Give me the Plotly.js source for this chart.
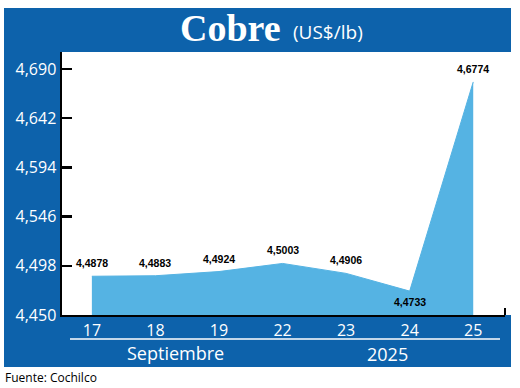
<!DOCTYPE html>
<html>
<head>
<meta charset="utf-8">
<script src="https://cdn.plot.ly/plotly-3.0.1.min.js"></script>
<style>html,body{margin:0;padding:0;background:#fff;}#chart{width:520px;height:388px;}</style>
</head>
<body>
<div id="chart"></div>
<script>
// Data
var days = ['17', '18', '19', '22', '23', '24', '25'];
var prices = [4.4878, 4.4883, 4.4924, 4.5003, 4.4906, 4.4733, 4.6774];
var yTicks = [4.450, 4.498, 4.546, 4.594, 4.642, 4.690];
var monthLabel = 'Septiembre';
var yearLabel = '2025';
var titleMain = 'Cobre';
var titleUnit = '(US$/lb)';
var sourceText = 'Fuente: Cochilco';

var BLUE = '#0d62ab';
var FILL = '#55b3e3';

// pixel -> paper helpers (plot area: x 62..505, y 52..315)
var L = 62, R = 505, T = 52, B = 315;
function px(x) { return (x - L) / (R - L); }
function py(y) { return (B - y) / (B - T); }

var trace = {
  x: days,
  y: prices,
  type: 'scatter',
  mode: 'lines',
  fill: 'tozeroy',
  fillcolor: FILL,
  line: {color: FILL, width: 1},
  hoverinfo: 'skip'
};

// value labels: above each point, except the dip (below)
var minPrice = Math.min.apply(null, prices);
var labelFont = {family: 'Liberation Sans Narrow, Arial Narrow, sans-serif', size: 10.5, color: '#000000', weight: 'bold'};
var valueLabels = days.map(function (d, i) {
  return {
    x: i, y: prices[i], xref: 'x', yref: 'y',
    text: prices[i].toFixed(4).replace('.', ','),
    showarrow: false,
    xanchor: 'center',
    yanchor: 'middle',
    yshift: prices[i] === minPrice ? -11 : 13,
    font: labelFont
  };
});

var layout = {
  width: 520,
  height: 388,
  margin: {l: L, r: 520 - R, t: T, b: 388 - B, pad: 0},
  paper_bgcolor: '#ffffff',
  plot_bgcolor: '#ffffff',
  showlegend: false,
  separators: ',.',
  xaxis: {
    type: 'category',
    range: [-0.47, 6.5],
    showgrid: false,
    zeroline: false,
    showline: true,
    linecolor: '#000',
    linewidth: 2,
    ticks: '',
    tickfont: {family: 'Open Sans, sans-serif', size: 16, color: '#ffffff'},
    fixedrange: true
  },
  yaxis: {
    range: [4.450, 4.7066],
    tickvals: yTicks,
    tickformat: '.3f',
    showgrid: false,
    zeroline: false,
    showline: true,
    linecolor: '#000',
    linewidth: 2.5,
    ticks: 'inside',
    ticklen: 10,
    tickwidth: 2.5,
    tickcolor: '#000',
    tickfont: {family: 'Open Sans, sans-serif', size: 16, color: '#ffffff'},
    fixedrange: true
  },
  shapes: [
    {type: 'rect', xref: 'paper', yref: 'paper', x0: px(4), x1: px(511), y0: py(52), y1: py(8), fillcolor: BLUE, line: {width: 0}, layer: 'below'},
    {type: 'rect', xref: 'paper', yref: 'paper', x0: px(4), x1: px(62), y0: py(367), y1: py(8), fillcolor: BLUE, line: {width: 0}, layer: 'below'},
    {type: 'rect', xref: 'paper', yref: 'paper', x0: px(4), x1: px(511), y0: py(367), y1: py(315), fillcolor: BLUE, line: {width: 0}, layer: 'below'},
    {type: 'line', xref: 'paper', yref: 'paper', x0: px(70), x1: px(500), y0: py(339), y1: py(339), line: {color: '#ffffff', width: 1.5}},
    {type: 'line', xref: 'paper', yref: 'paper', x0: 1, x1: 1, y0: 0, y1: py(308), line: {color: '#000', width: 2}}
  ],
  annotations: valueLabels.concat([
    {xref: 'paper', yref: 'paper', x: px(283), y: py(28), xanchor: 'right', yanchor: 'middle', showarrow: false,
     text: '<b>' + titleMain + '</b>', font: {family: 'Liberation Serif, DejaVu Serif, serif', size: 38, color: '#ffffff'}},
    {xref: 'paper', yref: 'paper', x: px(291), y: py(32), xanchor: 'left', yanchor: 'middle', showarrow: false,
     text: titleUnit, font: {family: 'Open Sans, sans-serif', size: 19, color: '#ffffff'}},
    {xref: 'paper', yref: 'paper', x: px(175), y: py(353), xanchor: 'center', yanchor: 'middle', showarrow: false,
     text: monthLabel, font: {family: 'Open Sans, sans-serif', size: 18, color: '#ffffff'}},
    {xref: 'paper', yref: 'paper', x: px(387), y: py(354), xanchor: 'center', yanchor: 'middle', showarrow: false,
     text: yearLabel, font: {family: 'Open Sans, sans-serif', size: 18, color: '#ffffff'}},
    {xref: 'paper', yref: 'paper', x: px(3), y: py(377), xanchor: 'left', yanchor: 'middle', showarrow: false,
     text: sourceText, font: {family: 'Open Sans, sans-serif', size: 12, color: '#000000'}}
  ])
};

Plotly.newPlot('chart', [trace], layout, {displayModeBar: false, staticPlot: true});
</script>
</body>
</html>
